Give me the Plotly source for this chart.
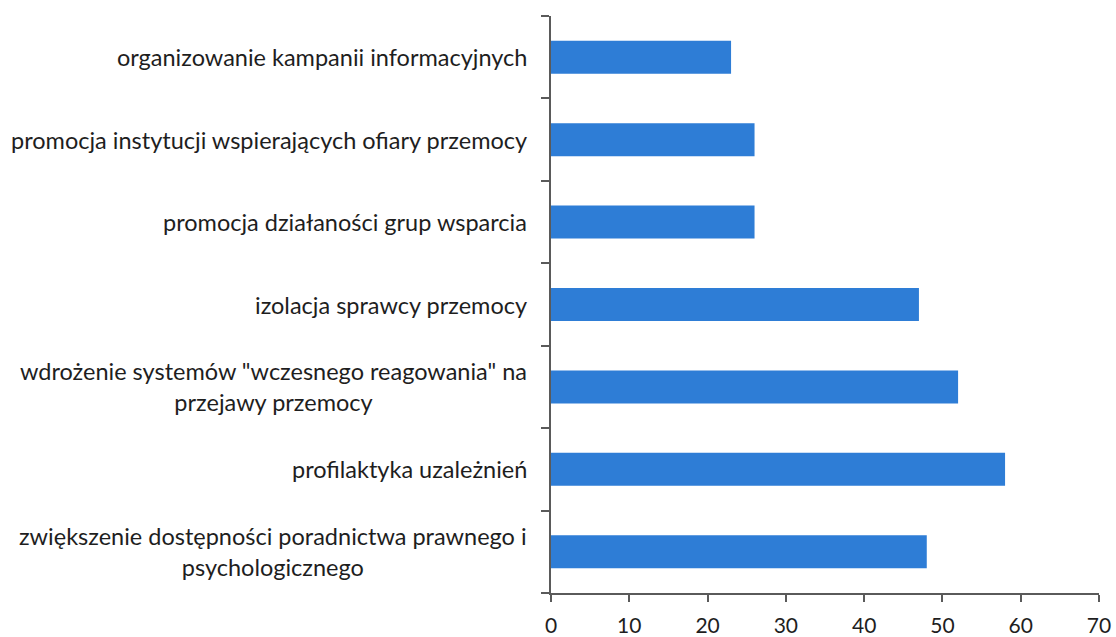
import plotly.graph_objects as go

categories = [
    "zwiększenie dostępności poradnictwa prawnego i<br>psychologicznego",
    "profilaktyka uzależnień",
    "wdrożenie systemów \"wczesnego reagowania\" na<br>przejawy przemocy",
    "izolacja sprawcy przemocy",
    "promocja działaności grup wsparcia",
    "promocja instytucji wspierających ofiary przemocy",
    "organizowanie kampanii informacyjnych",
]
values = [48, 58, 52, 47, 26, 26, 23]
x_ticks = [0, 10, 20, 30, 40, 50, 60, 70]

FONT = "Lato"
TEXT = "#1e1e1e"
AXIS = "#5a5a5a"

fig = go.Figure(go.Bar(
    x=values, y=categories, orientation="h",
    marker=dict(color="#2e7dd6", line=dict(width=0)),
))

annotations = [
    dict(x=0, y=c, xref="x", yref="y", text=c, showarrow=False,
         xanchor="right", yanchor="middle", align="center", xshift=-22,
         font=dict(family=FONT, size=23.5, color=TEXT))
    for c in categories
]

fig.update_layout(
    width=1116, height=637,
    margin=dict(l=551, r=17, t=16, b=44),
    paper_bgcolor="white", plot_bgcolor="white",
    bargap=0.6, showlegend=False,
    annotations=annotations,
    xaxis=dict(range=[0, 70], tickvals=x_ticks, showgrid=False, zeroline=False,
               automargin=False,
               showline=True, linecolor=AXIS, linewidth=1.5,
               ticks="outside", ticklen=7, tickcolor=AXIS, tickwidth=1.5,
               ticklabelstandoff=6,
               tickfont=dict(family=FONT, size=21, color=TEXT)),
    yaxis=dict(showticklabels=False, showgrid=False, zeroline=False,
               automargin=False,
               showline=True, linecolor=AXIS, linewidth=1.5,
               ticks="outside", ticklen=8, tickcolor=AXIS, tickwidth=1.5,
               tickson="boundaries"),
)

fig.write_html("out.html", config={"displayModeBar": False},
               post_script="document.body.style.margin='0';")
